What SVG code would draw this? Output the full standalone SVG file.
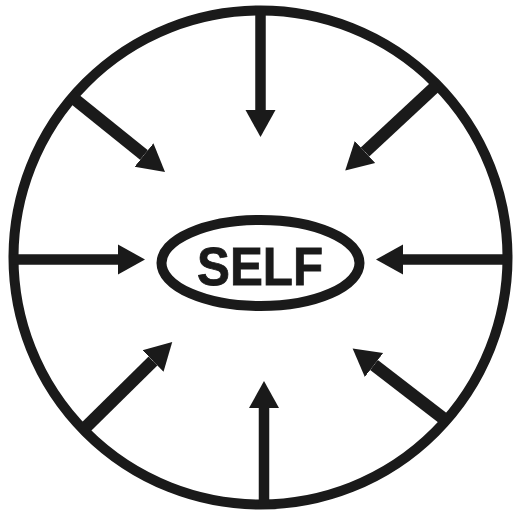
<svg xmlns="http://www.w3.org/2000/svg" width="514" height="511" viewBox="0 0 514 511">
<style>
.ring{fill:none;stroke:#1a1a1a;stroke-width:10}
.bar{stroke:#1a1a1a;stroke-width:10.5;fill:none}
.bar.d{stroke-width:12.5}
.lbl{font-family:"Liberation Sans",Arial,sans-serif;font-weight:bold;font-size:53px;fill:#1a1a1a;stroke:#1a1a1a;stroke-width:0.8}
</style>
<defs>
<marker id="h" markerUnits="userSpaceOnUse" markerWidth="28" markerHeight="32" refX="0" refY="15" orient="auto" viewBox="0 0 28 30">
<path d="M0,0 L27,15 L0,30 z" fill="#1a1a1a"/>
</marker>
</defs>
<rect width="514" height="511" fill="#fff"/>
<g id="outer-circle"><circle class="ring" cx="260.5" cy="257.5" r="247"/></g>
<g id="connectors">
<line class="bar" x1="12" y1="259.5" x2="118" y2="259.5" marker-end="url(#h)"/>
<line class="bar" x1="508" y1="259.5" x2="403" y2="259.5" marker-end="url(#h)"/>
<line class="bar" x1="260.5" y1="9" x2="260.5" y2="110" marker-end="url(#h)"/>
<line class="bar" x1="264" y1="506" x2="264" y2="408" marker-end="url(#h)"/>
<line class="bar d" x1="72" y1="97" x2="144" y2="155" marker-end="url(#h)"/>
<line class="bar d" x1="437" y1="85" x2="365" y2="152" marker-end="url(#h)"/>
<line class="bar d" x1="83" y1="430" x2="153" y2="361" marker-end="url(#h)"/>
<line class="bar d" x1="446" y1="420.5" x2="374" y2="365" marker-end="url(#h)"/>
</g>
<g id="self">
<ellipse class="ring" cx="260.5" cy="263" rx="99" ry="43"/>
<text class="lbl" x="260" y="285" text-anchor="middle" textLength="126" lengthAdjust="spacingAndGlyphs">SELF</text>
</g>
</svg>
